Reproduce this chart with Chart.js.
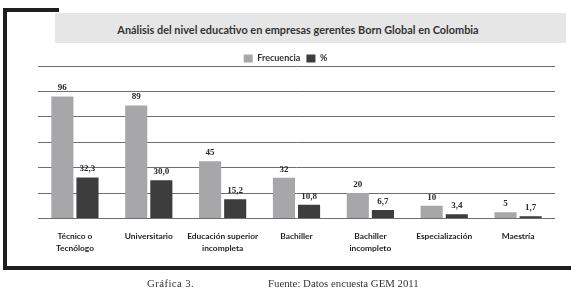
<!DOCTYPE html>
<html>
<head>
<meta charset="utf-8">
<script src="https://cdn.jsdelivr.net/npm/chart.js@4"></script>
<style>
  html, body { margin: 0; padding: 0; background: #fff; }
  #wrap { position: relative; width: 571px; height: 295px; overflow: hidden; }
  #chart { position: absolute; left: 0; top: 0; }
  .frame { position: absolute; background: #1e1e1e; }
  #band { position: absolute; left: 55px; top: 13px; width: 511px; height: 30px; background: #e6e6e6; }
  #title { position: absolute; left: 0; width: 486px; top: 1px; text-align: center;
           font: bold 10.9px "Lato", sans-serif; color: #333; line-height: 31px; white-space: nowrap; }
  .foot { position: absolute; top: 277px; font: 10.8px "Liberation Serif", serif; color: #333; }
</style>
</head>
<body>
<div id="wrap">
  <div class="frame" style="left:3px;top:8px;width:4px;height:262px"></div>
  <div class="frame" style="left:3px;top:8px;width:56px;height:4px"></div>
  <div class="frame" style="left:3px;top:266px;width:568px;height:4px"></div>
  <div id="band"><div id="title">Análisis del nivel educativo en empresas gerentes Born Global en Colombia</div></div>
  <canvas id="chart" width="571" height="295"></canvas>
  <div class="foot" style="left:147px;letter-spacing:0.4px">Gráfica 3.</div>
  <div class="foot" style="left:268px">Fuente: Datos encuesta GEM 2011</div>
</div>
<script>
const categories = [
    ['Técnico o', 'Tecnólogo'],
    'Universitario',
    ['Educación superior', 'incompleta'],
    'Bachiller',
    ['Bachiller', 'incompleto'],
    'Especialización',
    'Maestría'
];
const frecuencia = [96, 89, 45, 32, 20, 10, 5];
const porcentaje = [32.3, 30.0, 15.2, 10.8, 6.7, 3.4, 1.7];

// value labels over the bars
const valueLabels = {
    id: 'valueLabels',
    afterDatasetsDraw(chart) {
        const ctx = chart.ctx;
        ctx.save();
        ctx.font = 'bold 9px "Liberation Serif", serif';
        ctx.fillStyle = '#2a2a2a';
        ctx.textAlign = 'center';
        ctx.textBaseline = 'bottom';
        chart.data.datasets.forEach((ds, i) => {
            chart.getDatasetMeta(i).data.forEach((bar, j) => {
                const v = ds.data[j];
                const txt = i === 0 ? String(v) : v.toFixed(1).replace('.', ',');
                ctx.fillText(txt, bar.x, bar.y - 4);
            });
        });
        ctx.restore();
    }
};

// legend sits tight above the plot and a bit left of centre
const legendTweak = {
    id: 'legendTweak',
    afterInit(chart) {
        const lg = chart.legend;
        const fit = lg.fit;
        lg.fit = function () { fit.call(this); this.height = 18; };
    },
    afterLayout(chart) {
        chart.legend.left -= 11;
        chart.legend.right -= 11;
    }
};

new Chart(document.getElementById('chart'), {
    type: 'bar',
    data: {
        labels: categories,
        datasets: [{
            label: 'Frecuencia',
            data: frecuencia,
            backgroundColor: '#a7a7a9'
        }, {
            label: '%',
            data: porcentaje,
            backgroundColor: '#3d3d3d'
        }]
    },
    options: {
        responsive: false,
        animation: false,
        datasets: {
            bar: { categoryPercentage: 0.68, barPercentage: 0.88 }
        },
        layout: {
            padding: { left: 38, right: 16, top: 48, bottom: 37 }
        },
        plugins: {
            legend: {
                labels: {
                    boxWidth: 9,
                    boxHeight: 8,
                    padding: 6,
                    color: '#333',
                    font: { family: 'Lato', size: 9, weight: 'bold' }
                }
            },
            tooltip: { enabled: false }
        },
        scales: {
            x: {
                grid: { display: false },
                border: { display: false },
                ticks: {
                    color: '#1e1e1e',
                    padding: 4,
                    maxRotation: 0,
                    autoSkip: false,
                    font: { family: 'Lato', size: 8.4, weight: 'bold', lineHeight: 1.4 }
                }
            },
            y: {
                min: 0,
                max: 120,
                ticks: { display: false, stepSize: 20 },
                grid: { color: '#6e6e6e', lineWidth: 1, drawTicks: false },
                border: { display: false }
            }
        }
    },
    plugins: [valueLabels, legendTweak]
});
</script>
</body>
</html>
